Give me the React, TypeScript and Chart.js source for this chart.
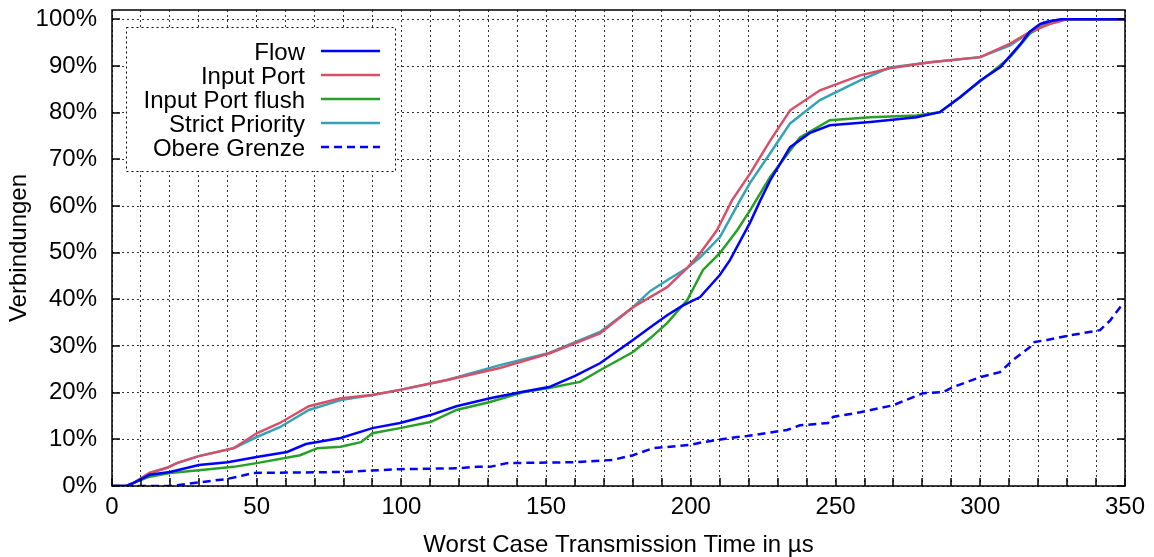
import React, { useEffect, useRef } from 'react';
import { Chart, registerables } from 'chart.js';

Chart.register(...registerables);

// ---- data (x in µs, y in % of connections) ----
const flowX = [0, 5, 7.3, 13, 20, 30, 40, 50, 60.5, 67, 79, 90, 99.5, 110, 119, 130.6, 141, 151, 160, 168.6, 180, 186, 191.8, 197, 203.2, 210, 213.5, 220.5, 224, 227.4, 234.3, 241, 248, 262, 278, 286, 293, 300, 307, 314, 317, 320.7, 324, 328, 350];
const flowY = [0, 0, 0.6, 2.4, 3, 4.5, 5.1, 6.2, 7.3, 9, 10.3, 12.4, 13.5, 15.2, 17.1, 18.8, 20.1, 21.2, 23.6, 26.3, 31.3, 34, 36.6, 38.6, 40.5, 45.2, 48.4, 56.5, 61.2, 65.5, 72.6, 75.6, 77.3, 78, 79, 80.1, 83.3, 86.9, 89.8, 94.8, 97.3, 99, 99.6, 100, 100];

const inputPortX = [0, 5, 7.3, 13, 19, 22.4, 30, 42, 50, 58, 68, 79, 90, 99.5, 115.8, 134, 151, 168.6, 180, 191.8, 198.7, 203.2, 209, 214.2, 220.5, 227.4, 234.3, 244.6, 258.5, 268.8, 282.7, 300, 310.3, 317.2, 324, 330, 350];
const inputPortY = [0, 0, 0.6, 2.8, 3.9, 4.9, 6.4, 8.1, 11.3, 13.5, 17.1, 18.8, 19.5, 20.6, 22.7, 25.3, 28.4, 32.7, 38.3, 42.6, 46.7, 49.9, 54.8, 61.2, 67, 74, 80.5, 84.8, 88, 89.5, 90.8, 91.9, 94.8, 97.3, 99, 100, 100];

const flushX = [0, 5, 7.3, 13, 20, 30, 42, 50, 65, 71, 79, 86, 90, 99.5, 110, 119, 130.6, 142, 151, 161.7, 168.6, 180, 186, 191.8, 198.7, 204.2, 210, 216, 220.5, 227.4, 237.7, 248, 262, 278, 286, 293, 303.4, 310.3, 317.2, 324, 330, 350];
const flushY = [0, 0, 0.6, 2, 2.8, 3.4, 4.1, 4.9, 6.6, 8.1, 8.4, 9.4, 11.3, 12.4, 13.7, 16.3, 18, 20.1, 21, 22.3, 24.8, 28.7, 31.7, 34.9, 39.8, 46.3, 49.9, 54.8, 59.1, 66.2, 74.7, 78.4, 79, 79.4, 80.1, 83.3, 88.4, 91.9, 97, 99.4, 100, 100];

const strictX = [0, 5, 7.3, 13, 19, 22.4, 30, 42, 50, 58, 68, 79, 90, 99.5, 115.8, 134, 151, 168.6, 180, 186, 191.8, 198.7, 203.2, 210, 217, 220.5, 227.4, 234.3, 244.6, 258.5, 268.8, 282.7, 300, 310.3, 316.6, 322, 328, 350];
const strictY = [0, 0, 0.6, 2.8, 3.9, 4.9, 6.4, 8.1, 10.5, 12.6, 16.3, 18.4, 19.5, 20.6, 22.7, 25.9, 28.5, 33, 38.3, 41.8, 44.1, 46.7, 49, 53.3, 61.2, 65, 71.3, 77.7, 82.7, 86.9, 89.7, 90.8, 91.9, 94.4, 97, 99.4, 100, 100];

const boundX = [0, 20, 30.4, 39.7, 44.2, 48.7, 79.8, 92.6, 99.5, 119.2, 126, 130.6, 136.5, 159.3, 173.1, 180, 186.9, 199.7, 204.2, 213.5, 219.4, 233.2, 237.7, 247.4, 249.1, 258.5, 269.9, 280.2, 287.1, 290.6, 299.9, 306.8, 311.3, 317.2, 318.2, 323.1, 332.1, 341.4, 344.9, 348.3, 349.5];
const boundY = [0, 0, 0.8, 1.5, 2.1, 2.8, 3, 3.4, 3.6, 3.8, 4.1, 4.1, 4.9, 5.1, 5.6, 6.6, 8.1, 8.8, 9.4, 10.3, 10.7, 12, 13, 13.5, 14.8, 15.8, 17.3, 19.9, 20.1, 21.2, 23.3, 24.4, 27, 29.8, 30.8, 31.3, 32.4, 33.4, 35.5, 38.3, 39];

const seriesLabels = ['Flow', 'Input Port', 'Input Port flush', 'Strict Priority', 'Obere Grenze'];
const seriesColors = ['#0000ff', '#d6506a', '#26a026', '#35a3b6', '#0000ff'];

const xMin = 0;
const xMax = 350;
const xStep = 10;
const xLabelStep = 50;
const yMin = 0;
const yMax = 102;
const yStep = 10;

const FONT = '"Liberation Sans", Arial, Helvetica, sans-serif';
const FONT_SIZE = 24;

function toPoints(xs: number[], ys: number[]) {
  return xs.map((x, i) => ({ x, y: ys[i] }));
}

const framePlugin = {
  id: 'gnuplotFrame',
  afterDatasetsDraw(chart: any) {
    const { ctx, chartArea: a, scales } = chart;
    const xs = scales.x;
    const ys = scales.y;
    ctx.save();
    ctx.setLineDash([]);
    ctx.strokeStyle = '#000';
    ctx.lineWidth = 1.5;
    ctx.beginPath();
    const tickLen = 8;
    xs.ticks.forEach((t: any) => {
      const px = Math.round(xs.getPixelForValue(t.value));
      ctx.moveTo(px, a.bottom);
      ctx.lineTo(px, a.bottom - tickLen);
    });
    ys.ticks.forEach((t: any) => {
      const py = Math.round(ys.getPixelForValue(t.value));
      ctx.moveTo(a.left, py);
      ctx.lineTo(a.left + tickLen, py);
      ctx.moveTo(a.right, py);
      ctx.lineTo(a.right - tickLen, py);
    });
    ctx.stroke();
    ctx.strokeRect(Math.round(a.left), Math.round(a.top), Math.round(a.right - a.left), Math.round(a.bottom - a.top));

    // legend box
    const bx = a.left + 14;
    const by = a.top + 17;
    const bw = 269;
    const bh = 144;
    ctx.fillStyle = '#fff';
    ctx.fillRect(bx, by, bw, bh);
    ctx.lineWidth = 1;
    ctx.setLineDash([2, 3]);
    ctx.strokeStyle = '#000';
    ctx.strokeRect(bx + 0.5, by + 0.5, bw, bh);

    ctx.font = `${FONT_SIZE}px ${FONT}`;
    ctx.textAlign = 'right';
    ctx.textBaseline = 'alphabetic';
    chart.data.datasets.forEach((ds: any, i: number) => {
      const cy = by + 24 + i * 24;
      ctx.fillStyle = '#000';
      ctx.fillText(ds.label, bx + 179, cy + 8.5);
      ctx.strokeStyle = ds.borderColor;
      ctx.lineWidth = ds.borderWidth;
      ctx.setLineDash(ds.borderDash || []);
      ctx.beginPath();
      ctx.moveTo(bx + 195, cy);
      ctx.lineTo(bx + 254, cy);
      ctx.stroke();
    });
    ctx.restore();
  },
};

export default function App() {
  const canvasRef = useRef<HTMLCanvasElement | null>(null);

  useEffect(() => {
    document.body.style.margin = '0';
    const canvas = canvasRef.current;
    if (!canvas) return;
    const seriesX = [flowX, inputPortX, flushX, strictX, boundX];
    const seriesY = [flowY, inputPortY, flushY, strictY, boundY];
    const datasets = seriesLabels.map((label, i) => ({
      label,
      data: toPoints(seriesX[i], seriesY[i]),
      borderColor: seriesColors[i],
      backgroundColor: seriesColors[i],
      borderWidth: 2.5,
      borderDash: i === 4 ? [8, 5] : [],
      pointRadius: 0,
      tension: 0,
      fill: false,
    }));

    const chart = new Chart(canvas, {
      type: 'line',
      data: { datasets },
      options: {
        animation: false,
        responsive: true,
        maintainAspectRatio: false,
        layout: { padding: { top: 10, right: 29, left: 0, bottom: 0 } },
        plugins: {
          legend: { display: false },
          tooltip: { enabled: false },
        },
        scales: {
          x: {
            type: 'linear',
            min: xMin,
            max: xMax,
            afterFit: (s: any) => {
              s.height = 71;
              s.paddingLeft = 0;
              s.paddingRight = 0;
            },
            ticks: {
              stepSize: xStep,
              autoSkip: false,
              maxRotation: 0,
              padding: 7,
              color: '#000',
              font: { family: FONT, size: FONT_SIZE },
              callback: (v: any) => (Number(v) % xLabelStep === 0 ? String(v) : ''),
            },
            grid: {
              color: 'rgba(0,0,0,0.8)',
              lineWidth: 1,
              drawTicks: false,
            },
            border: { display: false, dash: [2, 3] },
            title: {
              display: true,
              text: 'Worst Case Transmission Time in µs',
              color: '#000',
              font: { family: FONT, size: FONT_SIZE, lineHeight: 1 },
              padding: { top: 0, bottom: 0 },
            },
          },
          y: {
            type: 'linear',
            min: yMin,
            max: yMax,
            afterFit: (s: any) => {
              s.width = 112;
              s.paddingTop = 0;
              s.paddingBottom = 0;
            },
            ticks: {
              stepSize: yStep,
              includeBounds: false,
              padding: 15,
              color: '#000',
              font: { family: FONT, size: FONT_SIZE },
              callback: (v: any) => `${v}%`,
            },
            grid: {
              color: 'rgba(0,0,0,0.8)',
              lineWidth: 1,
              drawTicks: false,
            },
            border: { display: false, dash: [2, 3] },
            title: {
              display: true,
              text: 'Verbindungen',
              color: '#000',
              font: { family: FONT, size: FONT_SIZE, lineHeight: 1.2 },
              padding: { top: 5, bottom: 0 },
            },
          },
        },
      },
      plugins: [framePlugin],
    });
    return () => chart.destroy();
  }, []);

  return (
    <div style={{ position: 'fixed', left: 0, top: 0, width: 1154, height: 557, background: '#fff' }}>
      <canvas ref={canvasRef} />
    </div>
  );
}
